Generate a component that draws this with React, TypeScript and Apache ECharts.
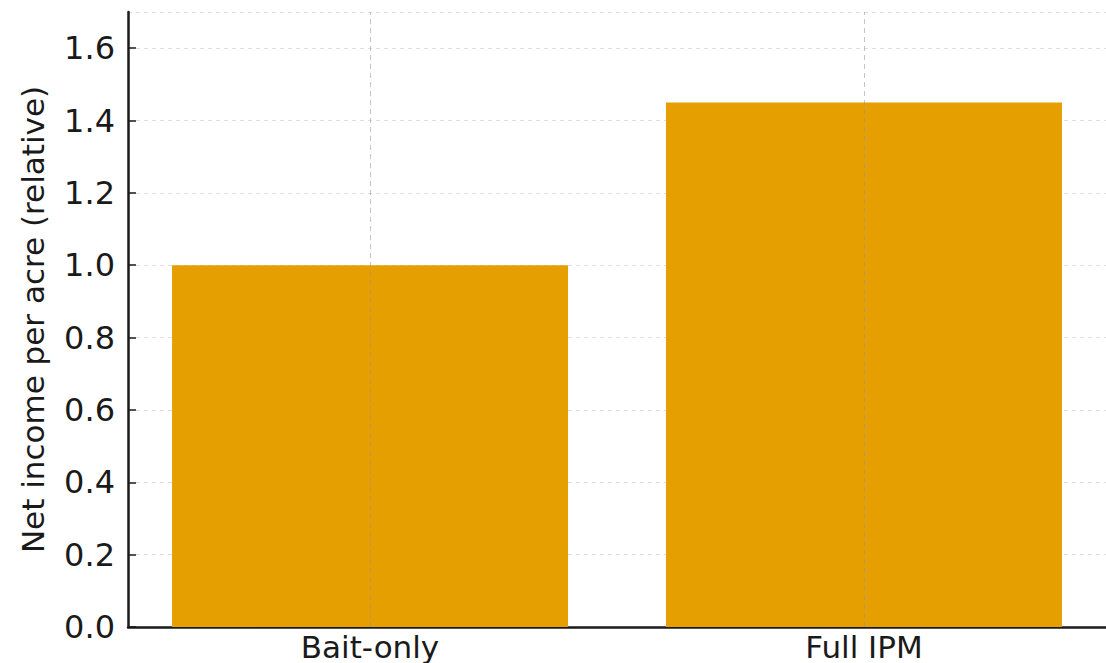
import React, { useEffect, useRef } from "react";
import * as echarts from "echarts";

const categories = ["Bait-only", "Full IPM"];
const values = [1.0, 1.45];
const yTicks = [0, 0.2, 0.4, 0.6, 0.8, 1.0, 1.2, 1.4, 1.6];
const yAxisTitle = "Net income per acre (relative)";

export default function App() {
  const ref = useRef<HTMLDivElement>(null);
  useEffect(() => {
    document.body.style.margin = "0";
    const chart = echarts.init(ref.current!, undefined, { renderer: "svg" });
    const font = "DejaVu Sans";
    const positions = categories.map((_, i) => i);
    chart.setOption({
      animation: false,
      backgroundColor: "#ffffff",
      grid: { left: 128, top: 12, bottom: 36, width: 980 },
      xAxis: {
        type: "value",
        min: -0.49,
        max: 1.49,
        axisLine: { show: true, onZero: false, lineStyle: { color: "#1a1a1a", width: 2.5 } },
        axisTick: { show: true, inside: true, length: 7, customValues: positions, lineStyle: { color: "#1a1a1a", width: 1.5 } },
        axisLabel: {
          color: "#1a1a1a",
          fontSize: 31,
          fontFamily: font,
          margin: 4,
          customValues: positions,
          formatter: (v: number) => categories[Math.round(v)] ?? "",
        },
        splitLine: { show: false },
      },
      yAxis: {
        type: "value",
        min: 0,
        max: 1.7,
        interval: 0.2,
        name: yAxisTitle,
        nameLocation: "middle",
        nameGap: 80,
        nameTextStyle: { color: "#1a1a1a", fontSize: 31, fontFamily: font },
        axisLine: { show: true, onZero: false, lineStyle: { color: "#1a1a1a", width: 2.5 } },
        axisTick: { show: true, inside: true, length: 8, lineStyle: { color: "#1a1a1a", width: 1.5 } },
        axisLabel: {
          color: "#1a1a1a",
          fontSize: 32,
          fontFamily: font,
          margin: 13,
          showMaxLabel: false,
          formatter: (v: number) => (yTicks.some((t) => Math.abs(t - v) < 1e-6) ? v.toFixed(1) : ""),
        },
        splitLine: { show: true, lineStyle: { color: "#dedede", type: [4, 4], width: 1 } },
      },
      series: [
        {
          type: "bar",
          data: values.map((v, i) => [positions[i], v]),
          barWidth: 396,
          itemStyle: { color: "#E69F00" },
          markLine: {
            silent: true,
            symbol: "none",
            label: { show: false },
            lineStyle: { color: "rgba(150,150,150,0.55)", type: [5, 4], width: 1 },
            data: positions.map((p) => ({ xAxis: p })),
          },
        },
      ],
    });
    return () => chart.dispose();
  }, []);
  return <div ref={ref} style={{ width: 1106, height: 663 }} />;
}
